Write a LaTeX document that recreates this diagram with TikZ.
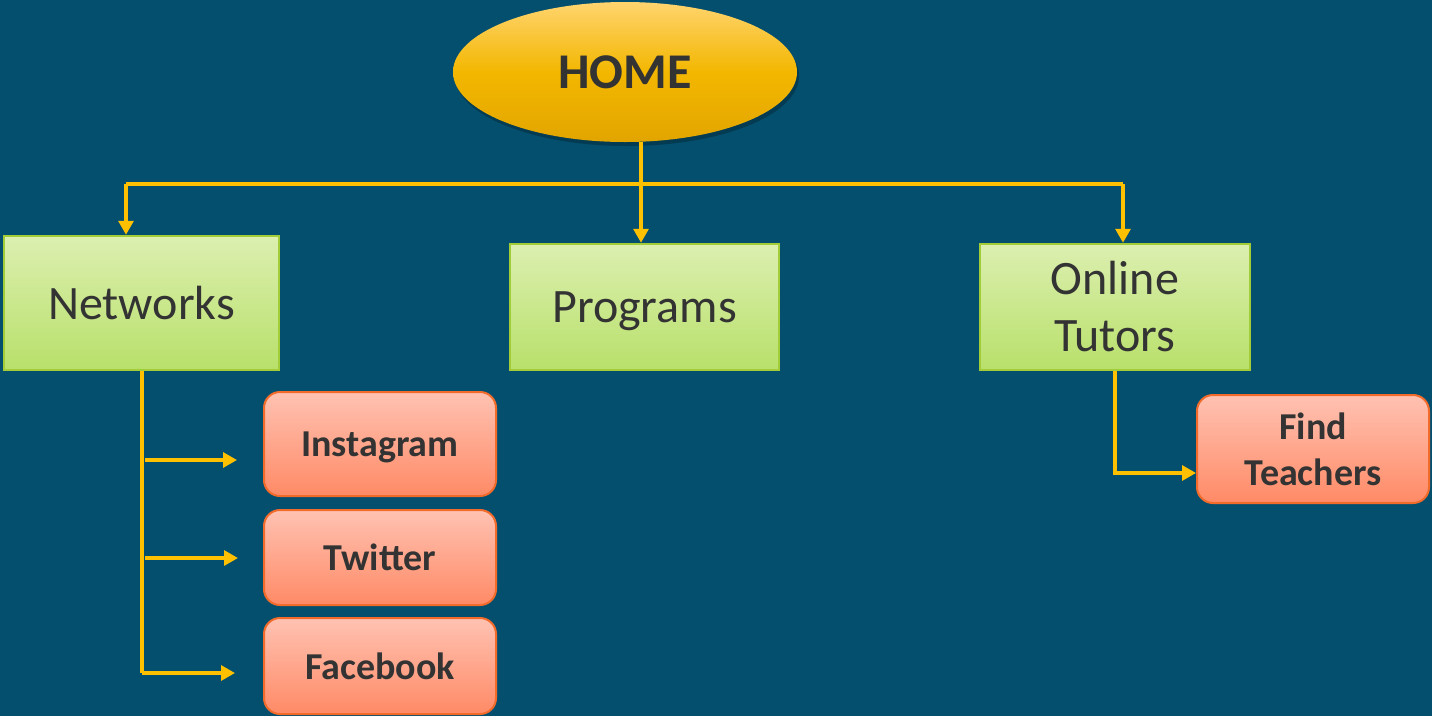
\documentclass[tikz,border=0pt]{standalone}
\usepackage{fontspec}
\setmainfont{Carlito}
\usetikzlibrary{arrows.meta,shapes.geometric,shadows}
\definecolor{bg}{HTML}{054F6E}
\definecolor{conncol}{HTML}{FFC000}
\definecolor{txt}{HTML}{333333}
\definecolor{gtop}{HTML}{DCEFB0}
\definecolor{gbot}{HTML}{B8E06A}
\definecolor{gborder}{HTML}{A2CD38}
\definecolor{otop}{HTML}{FFC2B2}
\definecolor{obot}{HTML}{FF8A66}
\definecolor{oborder}{HTML}{F26B2B}
\definecolor{ytop}{HTML}{FFD46E}
\definecolor{ymid}{HTML}{F3B700}
\definecolor{ybot}{HTML}{E2A500}
\tikzset{
  conn/.style={draw=conncol, line width=3.2pt, -{Triangle[width=15pt,length=14pt]}},
  connplain/.style={draw=conncol, line width=3.2pt},
  greenbox/.style={draw=gborder, line width=2.5pt, top color=gtop, bottom color=gbot,
    text=txt, align=center, font=\fontsize{48}{57}\selectfont, inner sep=0pt},
  orangebox/.style={draw=oborder, line width=2pt, top color=otop, bottom color=obot,
    rounded corners=16pt, text=txt, align=center, font=\fontsize{38}{46}\selectfont\bfseries, inner sep=0pt},
  homeell/.style={ellipse, draw=none, top color=ytop, bottom color=ybot, middle color=ymid,
    text=txt, font=\fontsize{50}{56}\selectfont\bfseries, inner sep=0pt,
    drop shadow={shadow xshift=2pt, shadow yshift=-4pt, opacity=0.25, fill=black}}
}
\begin{document}
\begin{tikzpicture}[x=1pt,y=-1pt]
\fill[bg] (0,0) rectangle (1432,716);
\useasboundingbox (0,0) rectangle (1432,716);

\node[homeell, minimum width=344pt, minimum height=140pt] (home) at (625,72) {HOME};

\node[greenbox, minimum width=275pt, minimum height=134pt] (net) at (141.5,303) {Networks};
\node[greenbox, minimum width=269pt, minimum height=126pt, text depth=0pt] (prog) at (644.5,307) {Programs};
\node[greenbox, minimum width=270pt, minimum height=126pt] (tut) at (1115,307) {Online\\Tutors};

\node[orangebox, minimum width=232pt, minimum height=104pt, text depth=0pt] (insta) at (380,444) {Instagram};
\node[orangebox, minimum width=232pt, minimum height=95pt] (twit) at (380,557.5) {Twitter};
\node[orangebox, minimum width=232pt, minimum height=96pt] (face) at (380,666) {Facebook};
\node[orangebox, minimum width=232pt, minimum height=108pt] (find) at (1313,449) {Find\\Teachers};

% top tree
\coordinate (jmid) at (641,184);
\coordinate (jleft) at (126,184);
\coordinate (jright) at (1123,184);
\draw[connplain] (home.south -| jmid) -- (jmid);
\draw[connplain] (jleft) -- (jright);
\draw[conn] (jmid) -- (jmid |- prog.north);
\draw[conn] (jleft) -- (jleft |- net.north);
\draw[conn] (jright) -- (jright |- tut.north);

% networks branch
\coordinate (nv) at (142,370);
\coordinate (nbot) at (142,673);
\draw[connplain] (net.south -| nv) -- (nbot);
\draw[conn] (145,460) coordinate (ia) -- ([xshift=-26pt]insta.west |- ia);
\draw[conn] (145,558) coordinate (ta) -- ([xshift=-25pt]twit.west |- ta);
\draw[conn] (nbot) -- ([xshift=-28pt]face.west |- nbot);

% tutors branch
\coordinate (tv) at (1115,473);
\draw[conn] (tut.south -| tv) -- (tv) -- (find.west |- tv);
\end{tikzpicture}
\end{document}
